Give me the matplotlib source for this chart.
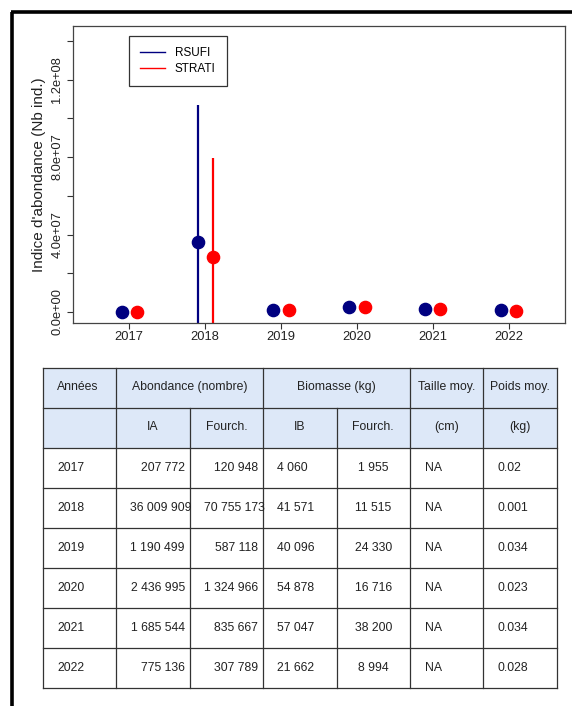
import matplotlib.pyplot as plt
from matplotlib.lines import Line2D
from matplotlib.patches import Rectangle
import numpy as np

plt.rcParams['font.family'] = ['Liberation Sans', 'DejaVu Sans']

# Abundance index per year (RSUFI from the table, STRATI estimated)
years = [2017, 2018, 2019, 2020, 2021, 2022]
ia = [207772, 36009909, 1190499, 2436995, 1685544, 775136]
fourch_a = [120948, 70755173, 587118, 1324966, 835667, 307789]
ib = [4060, 41571, 40096, 54878, 57047, 21662]
fourch_b = [1955, 11515, 24330, 16716, 38200, 8994]
taille = ["NA", "NA", "NA", "NA", "NA", "NA"]
poids = ["0.02", "0.001", "0.034", "0.023", "0.034", "0.028"]
strati = [210000, 28400000, 1250000, 2600000, 1750000, 750000]
strati_half = [110000, 51100000, 560000, 1300000, 800000, 320000]

W, H = 572, 706
fig = plt.figure(figsize=(W / 100, H / 100), dpi=100)

# --- abundance plot ---
ax = fig.add_axes([73 / W, 1 - 323 / H, (565 - 73) / W, (323 - 26) / H])
yr = np.array(years, dtype=float)
ia_arr = np.array(ia, dtype=float)
fa_arr = np.array(fourch_a, dtype=float)
st_arr = np.array(strati, dtype=float)
sh_arr = np.array(strati_half, dtype=float)

ax.vlines(yr - 0.1, ia_arr - fa_arr, ia_arr + fa_arr, color="navy", lw=1.6, zorder=2)
ax.vlines(yr + 0.1, st_arr - sh_arr, st_arr + sh_arr, color="red", lw=1.6, zorder=2)
ax.plot(yr - 0.1, ia_arr, "o", color="navy", ms=8.8, zorder=3)
ax.plot(yr + 0.1, st_arr, "o", color="red", ms=8.8, zorder=3)

ax.set_xlim(2016.26, 2022.74)
ax.set_ylim(-5.7e6, 1.477e8)
ax.set_xticks(years)
ax.set_xticklabels([str(y) for y in years])
yt = np.arange(0, 1.41e8, 2e7)
ax.set_yticks(yt)
ax.set_yticklabels(["0.0e+00", "", "4.0e+07", "", "8.0e+07", "", "1.2e+08", ""],
                   rotation=90, va="center")
ax.tick_params(axis="both", labelsize=9.3, length=4, width=0.8, color="#333333",
               labelcolor="#222222")
ax.tick_params(axis="x", pad=2)
ax.tick_params(axis="y", pad=3)
for sp in ax.spines.values():
    sp.set_color("#444444")
    sp.set_linewidth(0.9)
ax.set_ylabel("Indice d'abondance (Nb ind.)", fontsize=11, color="#222222", labelpad=4)

handles = [Line2D([], [], color="navy", lw=1.0), Line2D([], [], color="red", lw=1.0)]
leg = ax.legend(handles, ["RSUFI", "STRATI"], loc="upper left",
                bbox_to_anchor=(0.114, 0.966), borderaxespad=0, fancybox=False,
                edgecolor="#333333", framealpha=1, fontsize=8.5, handlelength=2.1,
                handletextpad=0.8, labelspacing=0.3, borderpad=0.95)
leg.get_frame().set_linewidth(0.9)

# --- summary table drawn in pixel space ---
tab = fig.add_axes([0, 0, 1, 1])
tab.set_xlim(0, W)
tab.set_ylim(H, 0)
tab.axis("off")

x0, top = 43, 368
cw, rh = 73.4, 40
ncol, nrow = 7, 8
xs = [x0 + i * cw for i in range(ncol + 1)]
ys = [top + j * rh for j in range(nrow + 1)]
line_kw = dict(color="#333333", lw=0.9)
fs = 8.8

tab.add_patch(Rectangle((x0, top), ncol * cw, 2 * rh, facecolor="#dde8f8",
                        edgecolor="none"))
for y in ys:
    tab.plot([xs[0], xs[-1]], [y, y], **line_kw)
for i, x in enumerate(xs):
    if i in (2, 4):
        tab.plot([x, x], [ys[1], ys[-1]], **line_kw)
    else:
        tab.plot([x, x], [ys[0], ys[-1]], **line_kw)

hc = dict(fontsize=fs, color="#222222", va="center")
hy = ys[0] + rh / 2 - 1
tab.text(xs[0] + 14, hy, "Années", ha="left", **hc)
tab.text((xs[1] + xs[3]) / 2, hy, "Abondance (nombre)", ha="center", **hc)
tab.text((xs[3] + xs[5]) / 2, hy, "Biomasse (kg)", ha="center", **hc)
tab.text((xs[5] + xs[6]) / 2, hy, "Taille moy.", ha="center", **hc)
tab.text((xs[6] + xs[7]) / 2, hy, "Poids moy.", ha="center", **hc)
for i, lab in enumerate(["IA", "Fourch.", "IB", "Fourch.", "(cm)", "(kg)"]):
    tab.text((xs[i + 1] + xs[i + 2]) / 2, ys[1] + rh / 2 - 1, lab, ha="center", **hc)


def fmt(v):
    return f"{v:,}".replace(",", " ")


def num_cell(col, yc, s):
    # long numbers spill over the right border of their cell
    if len(s) >= 10:
        tab.text(xs[col] + 14, yc, s, ha="left", **hc)
    else:
        tab.text(xs[col + 1] - 5, yc, s, ha="right", **hc)


for r in range(len(years)):
    yc = ys[r + 2] + rh / 2
    tab.text(xs[0] + 14, yc, str(years[r]), ha="left", **hc)
    num_cell(1, yc, fmt(ia[r]))
    num_cell(2, yc, fmt(fourch_a[r]))
    tab.text(xs[3] + 14, yc, fmt(ib[r]), ha="left", **hc)
    tab.text((xs[4] + xs[5]) / 2, yc, fmt(fourch_b[r]), ha="center", **hc)
    tab.text(xs[5] + 15, yc, taille[r], ha="left", **hc)
    tab.text(xs[6] + 14, yc, poids[r], ha="left", **hc)

# outer frame, left and top edges
tab.plot([12, 12], [11.5, H], color="black", lw=2.6, solid_capstyle="butt")
tab.plot([10.5, W], [11.5, 11.5], color="black", lw=2.6, solid_capstyle="butt")

fig.savefig("out.png", dpi=100, facecolor="white")
